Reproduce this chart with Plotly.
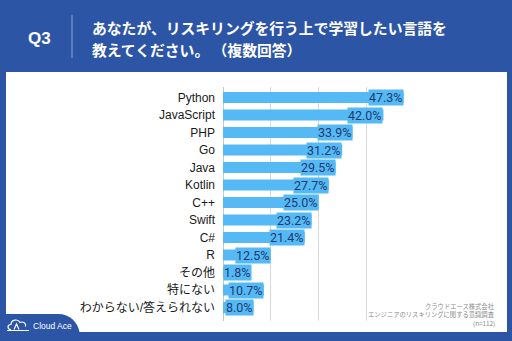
import plotly.graph_objects as go

categories = ["Python", "JavaScript", "PHP", "Go", "Java", "Kotlin", "C++", "Swift",
              "C#", "R", "その他", "特にない", "わからない/答えられない"]
values = [47.3, 42.0, 33.9, 31.2, 29.5, 27.7, 25.0, 23.2, 21.4, 12.5, 1.8, 10.7, 8.0]
title_line1 = "あなたが、リスキリングを行う上で学習したい言語を"
title_line2 = "教えてください。 （複数回答）"
q_label = "Q3"
notes = ["クラウドエース株式会社", "エンジニアのリスキリングに関する意識調査", "(n=112)"]
logo_text = "Cloud Ace"

W, H = 512, 341
L, R, T, B = 223, 98, 87, 20
PW, PH = W - L - R, H - T - B

BLUE = "#2d55a6"
BAR = "#55b9f5"
NAVY = "#1d3a6e"
JP = "Liberation Sans, Noto Sans CJK JP, sans-serif"


def px(x):
    return (x - L) / PW


def py(y):
    return (H - B - y) / PH


def path(cmds):
    out = []
    for c in cmds:
        if isinstance(c, str):
            out.append(c)
        else:
            out.append(f"{px(c[0]):.5f},{py(c[1]):.5f}")
    return " ".join(out)


fig = go.Figure(go.Bar(
    x=values, y=categories, orientation="h",
    marker=dict(color=BAR, line=dict(width=0)),
    hoverinfo="skip",
))

annotations = []
for c, v in zip(categories, values):
    fits = v >= 5
    annotations.append(dict(
        x=v if fits else 0, y=c, xref="x", yref="y",
        xanchor="right" if fits else "left", yanchor="middle",
        text=f"{v:.1f}%", showarrow=False, bgcolor=BAR, borderpad=0,
        font=dict(family="Roboto, Liberation Sans, sans-serif", size=12.5, color=NAVY),
    ))

# header texts
annotations += [
    dict(x=px(39), y=py(38), xref="paper", yref="paper", text=f"<b>{q_label}</b>",
         showarrow=False, xanchor="center", yanchor="middle",
         font=dict(family="Liberation Sans, sans-serif", size=17, color="white")),
    dict(x=px(90), y=py(27), xref="paper", yref="paper", text=f"<b>{title_line1}</b>",
         showarrow=False, xanchor="left", yanchor="middle",
         font=dict(family="Noto Sans CJK JP", size=14.8, color="white")),
    dict(x=px(90), y=py(50), xref="paper", yref="paper", text=f"<b>{title_line2}</b>",
         showarrow=False, xanchor="left", yanchor="middle",
         font=dict(family="Noto Sans CJK JP", size=14.8, color="white")),
    dict(x=px(31), y=py(326), xref="paper", yref="paper", text=logo_text,
         showarrow=False, xanchor="left", yanchor="middle",
         font=dict(family="Liberation Sans, sans-serif", size=8.5, color="white")),
]
for i, n in enumerate(notes):
    annotations.append(dict(
        x=px(497), y=py(306 + 8.5 * i), xref="paper", yref="paper", text=n,
        showarrow=False, xanchor="right", yanchor="middle",
        font=dict(family="Noto Sans CJK JP", size=6.3, color="#8a8a8a")))

shapes = [
    # white panel
    dict(type="rect", xref="paper", yref="paper", x0=px(6), x1=px(507), y0=py(332), y1=py(72),
         fillcolor="white", line=dict(width=0), layer="below"),
    # bottom-left tab
    dict(type="path", xref="paper", yref="paper", layer="below",
         path=path(["M", (0, 314), "L", (58, 314), "C", (70, 314), (78, 322), (80, 334),
                    "L", (80, 341), "L", (0, 341), "Z"]),
         fillcolor=BLUE, line=dict(width=0)),
    # divider
    dict(type="line", xref="paper", yref="paper", x0=px(72), x1=px(72), y0=py(15), y1=py(58),
         line=dict(color="#8fa6d6", width=1)),
    # cloud logo
    dict(type="path", xref="paper", yref="paper",
         path=path(["M", (11, 329.5), "C", (7, 329.5), (7, 324.5), (11, 324.5),
                    "C", (11, 319.5), (18, 318.5), (20, 322.5),
                    "C", (23, 321), (26.5, 323.5), (25.5, 326.5),
                    "M", (7, 330.5), "L", (29, 330.5),
                    "M", (14, 329.5), "L", (16.5, 324), "L", (19, 329.5)]),
         line=dict(color="white", width=1.2)),
]

fig.update_layout(
    width=W, height=H,
    margin=dict(l=L, r=R, t=T, b=B),
    paper_bgcolor=BLUE, plot_bgcolor="white",
    showlegend=False, bargap=0.37,
    annotations=annotations, shapes=shapes,
    xaxis=dict(range=[0, 50], tick0=0, dtick=12.5, showticklabels=False,
               showgrid=True, gridcolor="#d9d9d9", gridwidth=1,
               zeroline=True, zerolinecolor="#c8c8c8", zerolinewidth=1,
               showline=False, fixedrange=True),
    yaxis=dict(categoryorder="array", categoryarray=categories,
               range=[len(categories) - 1 + 0.77, -0.6],
               showgrid=False, zeroline=False, showline=False,
               ticks="", ticklabelstandoff=7,
               tickfont=dict(family=JP, size=12, color="#1a1a1a"), fixedrange=True),
)

fig.write_html("out.html", config={"displayModeBar": False})
